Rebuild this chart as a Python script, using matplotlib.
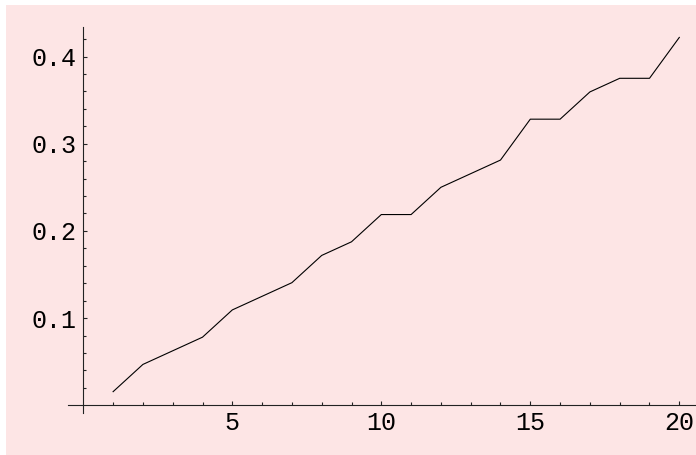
import matplotlib
matplotlib.use('Agg')
import matplotlib.pyplot as plt
from matplotlib.patches import Rectangle
from matplotlib.ticker import FixedLocator

# data (steps of 1/64)
x_vals = list(range(1, 21))
y_vals = [0.015625, 0.046875, 0.0625, 0.078125, 0.109375,
          0.125, 0.140625, 0.171875, 0.1875, 0.21875,
          0.21875, 0.25, 0.265625, 0.28125, 0.328125,
          0.328125, 0.359375, 0.375, 0.375, 0.421875]
x_ticks = [5, 10, 15, 20]
y_ticks = [0.1, 0.2, 0.3, 0.4]

W, H = 696, 455
bg = '#fde5e5'
font = 'Liberation Mono'

fig = plt.figure(figsize=(W / 100, H / 100), dpi=100, facecolor='white')
fig.patches.append(Rectangle((6 / W, 0), 1, 1 - 5 / H, transform=fig.transFigure,
                             facecolor=bg, edgecolor='none', zorder=-10))

ax = fig.add_axes([0, 0, 1, 1])
ax.set_facecolor('none')
ax.set_zorder(1)

# pixel mapping: x=0 at px 83.3, 29.8 px/unit; y=0 at px 405.3, 872 px/unit
x0, sx = 83.3, 29.8
y0, sy = 405.3, 872.0
ax.set_xlim(-x0 / sx, (W - x0) / sx)
ax.set_ylim((y0 - H) / sy, y0 / sy)

ax.plot(x_vals, y_vals, color='black', lw=0.8, solid_joinstyle='miter')

for side in ['top', 'right']:
    ax.spines[side].set_visible(False)
ax.spines['left'].set_position(('data', 0))
ax.spines['bottom'].set_position(('data', 0))
ax.spines['left'].set_bounds(-0.0088, 0.4335)
ax.spines['bottom'].set_bounds(-0.53, (W - x0) / sx)
for side in ['left', 'bottom']:
    ax.spines[side].set_linewidth(0.8)
    ax.spines[side].set_color('#222222')

ax.set_xticks(x_ticks)
ax.set_yticks(y_ticks)
ax.set_xticklabels([str(t) for t in x_ticks])
ax.set_yticklabels(['%.1f' % t for t in y_ticks])
ax.xaxis.set_minor_locator(FixedLocator([i for i in range(1, 21) if i % 5]))
ax.yaxis.set_minor_locator(FixedLocator([i * 0.02 for i in range(1, 22) if i % 5]))

ax.tick_params(which='both', direction='in', color='#222222', width=0.8)
ax.tick_params(which='major', length=3.2, labelsize=18)
ax.tick_params(which='minor', length=2)
ax.tick_params(axis='x', which='major', pad=4)
ax.tick_params(axis='y', which='major', pad=5)
for lab in ax.get_xticklabels() + ax.get_yticklabels():
    lab.set_fontfamily(font)

fig.savefig('out.png', dpi=100, facecolor='white')
